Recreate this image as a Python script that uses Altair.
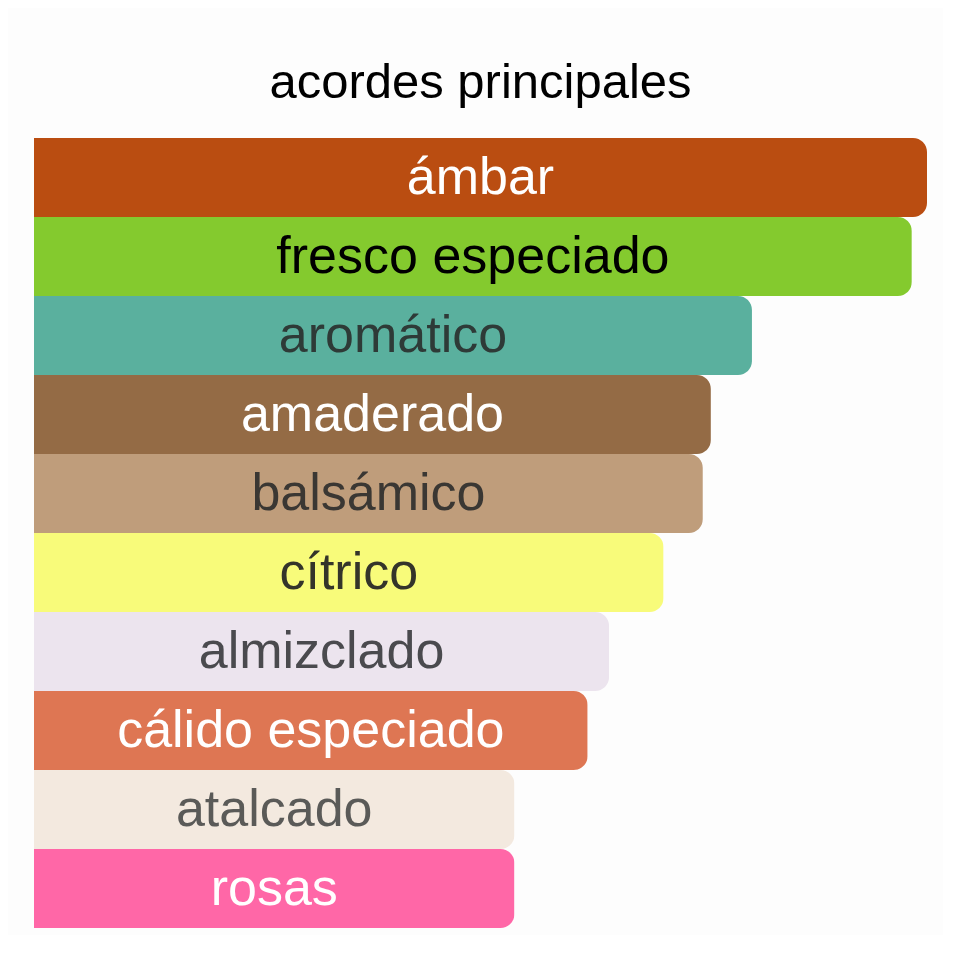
import altair as alt
import pandas as pd

acordes = ["ámbar", "fresco especiado", "aromático", "amaderado", "balsámico",
           "cítrico", "almizclado", "cálido especiado", "atalcado", "rosas"]
valores = [100, 98.3, 80.4, 75.8, 74.9, 70.5, 64.4, 62.0, 53.8, 53.8]
colores_barra = ["#BA4D11", "#84CA2E", "#5AB09E", "#946B45", "#BF9D7B",
                 "#F8FB7A", "#ECE4EE", "#DE7653", "#F3E9DF", "#FF67A7"]
colores_texto = ["#FFFFFF", "#000000", "#2E3A37", "#FFFFFF", "#3A3733",
                 "#34342A", "#4A4A4E", "#FFFFFF", "#5A5A58", "#FFFFFF"]

df = pd.DataFrame({
    "acorde": acordes,
    "valor": valores,
    "color": colores_barra,
    "texto": colores_texto,
})
df["mitad"] = df["valor"] / 2

y = alt.Y("acorde:N", sort=acordes, axis=None,
          scale=alt.Scale(paddingInner=0, paddingOuter=0))

barras = alt.Chart(df).mark_bar(cornerRadiusEnd=14).encode(
    x=alt.X("valor:Q", axis=None, scale=alt.Scale(domain=[0, 100], nice=False)),
    y=y,
    color=alt.Color("color:N", scale=None),
)

etiquetas = alt.Chart(df).mark_text(
    font="Liberation Sans", fontSize=52, align="center", baseline="middle"
).encode(
    x=alt.X("mitad:Q"),
    y=y,
    text="acorde:N",
    color=alt.Color("texto:N", scale=None),
)

chart = alt.layer(barras, etiquetas).properties(
    width=893,
    height=790,
    title=alt.TitleParams("acordes principales", font="Liberation Sans",
                          fontSize=49, fontWeight="normal", color="#000000",
                          anchor="middle", offset=30),
    background="#FDFDFD",
    padding={"left": 26, "top": 130, "right": 16, "bottom": 7},
    autosize=alt.AutoSizeParams(type="none"),
).configure_view(stroke=None)

chart.save("out.html", embed_options={"renderer": "svg", "actions": False})
